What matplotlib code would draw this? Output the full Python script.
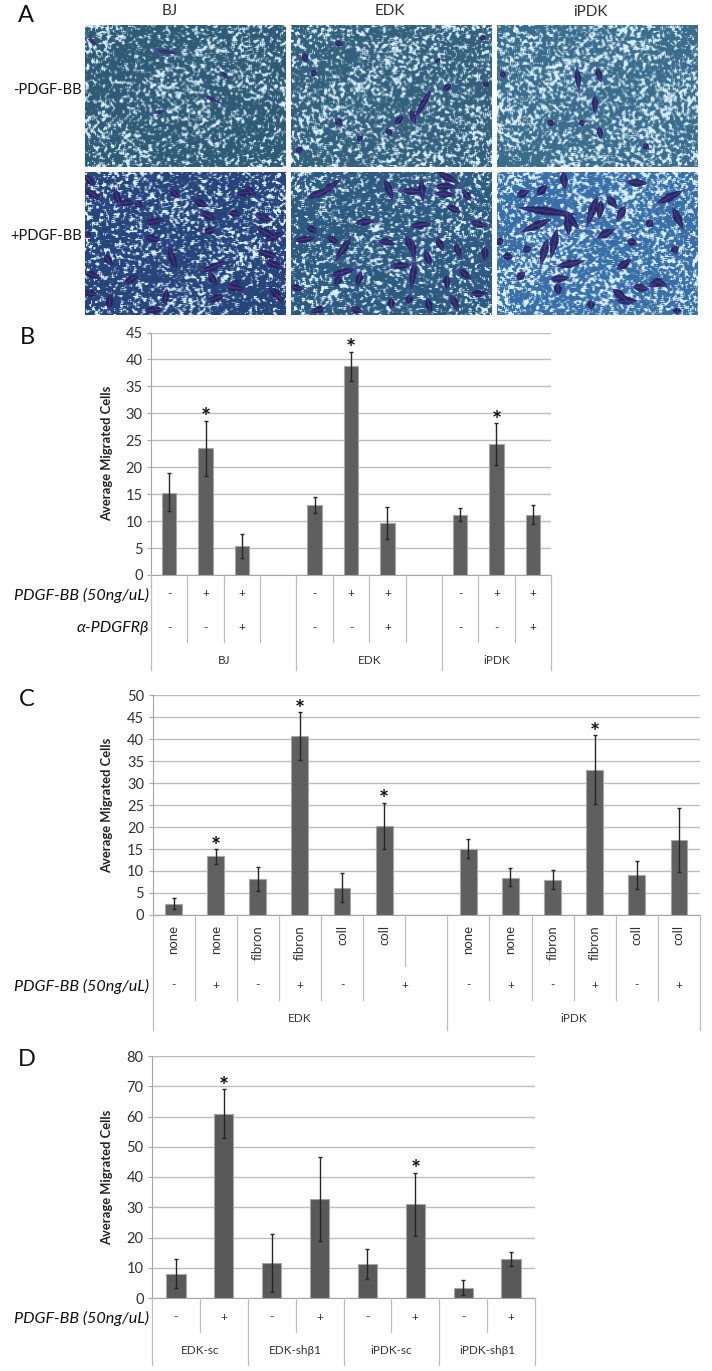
import matplotlib
matplotlib.use("Agg")
import matplotlib.pyplot as plt
import numpy as np

plt.rcParams['font.family'] = ['Lato', 'DejaVu Sans']

W, H = 712, 1371

# panel B
b_vals = [15.3, 23.5, 5.3, 0, 12.9, 38.7, 9.6, 0, 11.2, 24.3, 11.2]
b_low = [11.8, 18.3, 3.1, 0, 11.5, 36.0, 6.7, 0, 10.0, 20.4, 9.5]
b_high = [19.0, 28.6, 7.7, 0, 14.4, 41.4, 12.6, 0, 12.4, 28.2, 13.0]
b_stars = [1, 5, 9]
b_pdgf = ['-', '+', '+', '', '-', '+', '+', '', '-', '+', '+']
b_anti = ['-', '-', '+', '', '-', '-', '+', '', '-', '-', '+']
b_groups = ['BJ', 'EDK', 'iPDK']

# panel C
c_vals = [2.5, 13.3, 8.1, 40.7, 6.1, 20.2, 0, 14.9, 8.5, 8.0, 33.0, 9.1, 17.0]
c_low = [1.3, 11.6, 5.4, 35.3, 2.9, 14.9, 0, 12.9, 6.5, 5.8, 25.2, 6.0, 9.8]
c_high = [3.8, 15.0, 11.0, 46.1, 9.5, 25.5, 0, 17.2, 10.6, 10.2, 40.8, 12.3, 24.3]
c_stars = [1, 3, 5, 10]
c_names = ['none', 'none', 'fibron', 'fibron', 'coll', 'coll', '', 'none', 'none', 'fibron', 'fibron', 'coll', 'coll']
c_pdgf = ['-', '+', '-', '+', '-', '', '', '-', '+', '-', '+', '-', '+']
c_groups = ['EDK', 'iPDK']

# panel D
d_vals = [8.0, 60.8, 11.5, 32.7, 11.3, 31.0, 3.4, 12.8]
d_low = [3.3, 53.0, 2.0, 19.0, 6.3, 20.6, 1.0, 10.6]
d_high = [13.0, 69.0, 21.0, 46.7, 16.3, 41.4, 5.9, 15.1]
d_stars = [1, 5]
d_pdgf = ['-', '+', '-', '+', '-', '+', '-', '+']
d_groups = ['EDK-sc', 'EDK-shβ1', 'iPDK-sc', 'iPDK-shβ1']

# stained cells in panel A, as x0, y0, x1, y1 in fractions of each photo
cells_bj_minus = [(.36, .18, .46, .2), (.6, .5, .68, .55), (.35, .62, .4, .6), (.02, .1, .06, .14), (.68, .33, .72, .38)]
cells_edk_minus = [(.22, .12, .26, .14), (.1, .33, .13, .35), (.06, .2, .08, .26), (.7, .46, .62, .65), (.6, .6, .62, .7),
                   (.22, .66, .26, .71), (.8, .42, .76, .46), (.48, .73, .5, .78), (.34, .78, .35, .82), (.73, .24, .74, .26),
                   (.95, .08, .97, .1), (.03, .86, .05, .9), (.52, .7, .56, .64), (.97, .4, .98, .44)]
cells_ipdk_minus = [(.4, .3, .41, .46), (.49, .5, .49, .62), (.51, .72, .52, .8), (.73, .84, .76, .87), (.25, .68, .29, .7),
                    (.41, .7, .44, .68), (.02, .33, .04, .37), (.5, .3, .52, .4)]
cells_bj_plus = [(.0, .12, .09, .2), (.0, .02, .05, .1), (.15, .12, .18, .24), (.17, .22, .25, .21), (.25, .2, .29, .25),
                 (.43, .12, .47, .18), (.54, .2, .62, .24), (.76, .15, .84, .14), (.8, .1, .86, .18), (.72, .28, .78, .3),
                 (.85, .3, .94, .34), (.85, .38, .97, .48), (.9, .48, 1.0, .42), (.58, .28, .66, .34), (.3, .36, .4, .33),
                 (.0, .42, .03, .46), (.3, .45, .38, .48), (.6, .42, .65, .4), (.86, .55, .97, .6), (.1, .58, .14, .66),
                 (.42, .52, .46, .7), (.9, .62, 1.0, .68), (.58, .7, .72, .62), (.62, .7, .66, .8), (.0, .7, .08, .74),
                 (.2, .78, .27, .72), (.7, .8, .8, .82), (.13, .85, .12, .97), (.41, .82, .4, .93), (.72, .8, .78, .76),
                 (.3, .97, .4, .96), (.62, .9, .7, .86), (.0, .84, .06, .86), (.92, .8, 1.0, .92)]
cells_edk_plus = [(.08, .18, .2, .12), (.14, .16, .25, .05), (.47, .05, .51, .2), (.55, .13, .66, .14), (.65, .05, .66, .2),
                  (.73, .0, .84, .08), (.72, .1, .83, .1), (.72, .15, .82, .16), (.86, .13, .9, .2), (.78, .24, .85, .28),
                  (.32, .36, .42, .34), (.6, .38, .7, .36), (.9, .35, .98, .38), (.08, .38, .13, .42), (.18, .45, .24, .5),
                  (.3, .46, .22, .62), (.58, .45, .6, .55), (.73, .46, .76, .55), (.02, .48, .12, .46), (.44, .48, .52, .5),
                  (.6, .46, .62, .62), (.67, .55, .7, .66), (.82, .5, .85, .6), (.97, .52, .97, .62), (.35, .7, .33, .8),
                  (.2, .72, .32, .68), (.5, .66, .6, .65), (.62, .62, .6, .82), (.78, .72, .78, .82), (.84, .68, .9, .75),
                  (.6, .86, .58, .92), (.0, .8, .06, .82), (.17, .95, .1, .98), (.3, .95, .36, .98), (.68, .88, .7, .98),
                  (.8, .86, .84, .98), (.9, .85, .98, .85), (.5, .88, .5, .96), (.25, .72, .22, .8)]
cells_ipdk_plus = [(.11, .25, .4, .3), (.33, .27, .41, .4), (.27, .33, .12, .42), (.25, .47, .22, .65), (.3, .4, .27, .6),
                   (.35, .3, .36, .44), (.5, .17, .45, .38), (.52, .2, .51, .33), (.55, .17, .6, .25), (.64, .24, .6, .34),
                   (.8, .22, .93, .13), (.88, .25, .93, .4), (.5, .46, .59, .4), (.3, .66, .44, .62), (.6, .68, .67, .61),
                   (.3, .78, .31, .86), (.47, .9, .47, .96), (.58, .82, .65, .9), (.68, .8, .76, .82), (.82, .76, .76, .8),
                   (.03, .59, .08, .59), (.13, .55, .17, .53), (.33, .0, .34, .12), (.2, .16, .25, .09), (.65, .07, .75, .08),
                   (.88, .52, .9, .57), (.1, .17, .16, .13), (.65, .48, .7, .5), (.78, .75, .85, .8), (.9, .95, .9, .99),
                   (.0, .47, .03, .5), (.6, .9, .7, .9), (.1, .75, .14, .7), (.75, .38, .78, .34), (.27, .75, .36, .74)]


def px_axes(left, top, right, bottom):
    return fig.add_axes([left / W, 1 - bottom / H, (right - left) / W, (bottom - top) / H])


def blur(a):
    out = a.copy()
    for dx, dy in [(1, 0), (-1, 0), (0, 1), (0, -1), (1, 1), (-1, -1), (1, -1), (-1, 1)]:
        out = out + np.roll(a, (dy, dx), axis=(0, 1))
    return out / 9


def make_photo(seed, base, cover, ny=143, nx=200):
    # fixed speckle pattern for the micrograph background
    yy, xx = np.mgrid[0:ny, 0:nx]
    n1 = np.sin(xx * 12.9898 + yy * 78.233) * 43758.5453
    n1 = n1 - np.floor(n1)
    n2 = np.sin(n1 * 91.17 + xx * 0.37 + yy * 0.11 + seed) * 24634.6345
    n2 = n2 - np.floor(n2)
    smooth = blur(n2)
    smooth = (smooth - smooth.mean()) / smooth.std()
    patch = np.sin(xx / 19 + seed) * np.cos(yy / 14 - seed) + 0.7 * np.sin((xx + 1.4 * yy) / 31 + seed)
    field = smooth + 0.3 * patch
    limit = np.quantile(field, 1 - cover)
    speck = np.clip((field - limit) / 1.3, 0, 1)
    base = np.array(matplotlib.colors.to_rgb(base))
    light = np.array([0.84, 0.94, 1.0])
    return base + (light - base) * speck[..., None]


def draw_photo(left, top, right, bottom, cells, seed, base, cover, cell_w):
    ax = px_axes(left, top, right, bottom)
    ax.imshow(make_photo(seed, base, cover), extent=(0, 200, 143, 0), aspect='auto', interpolation='bilinear')
    for x0, y0, x1, y1 in cells:
        a = np.array([x0 * 200, y0 * 143])
        b = np.array([x1 * 200, y1 * 143])
        d = b - a
        n = np.array([-d[1], d[0]]) / (np.hypot(*d) + 1e-6)
        # faint tails, then the dark spindle body
        ax.plot([a[0] - d[0] * 0.2, b[0] + d[0] * 0.2], [a[1] - d[1] * 0.2, b[1] + d[1] * 0.2], color='#5a4aa8', lw=0.8, alpha=0.6)
        upper = [a + d * t + n * cell_w * s / 2 for t, s in [(0.2, 0.6), (0.45, 1), (0.75, 0.55)]]
        lower = [a + d * t - n * cell_w * s / 2 for t, s in [(0.75, 0.55), (0.45, 1), (0.2, 0.6)]]
        body = np.array([a] + upper + [b] + lower)
        ax.fill(body[:, 0], body[:, 1], color='#27215e', alpha=0.92, lw=0.5)
    ax.set_xlim(0, 200)
    ax.set_ylim(143, 0)
    ax.axis('off')


def draw_bars(left, top, right, bottom, vals, low, high, stars, ymax, step, n, width, color):
    ax = px_axes(left, top, right, bottom)
    x = np.arange(len(vals)) + 0.5
    v = np.array(vals)
    err = np.array([v - np.array(low), np.array(high) - v])
    keep = v > 0
    ax.bar(x[keep], v[keep], width=width, color=color, edgecolor='#a6a6a6', linewidth=0.8, zorder=3)
    ax.errorbar(x[keep], v[keep], yerr=err[:, keep], fmt='none', ecolor='#262626', elinewidth=1, capsize=1.6, capthick=1, zorder=4)
    for i in stars:
        ax.annotate('*', (x[i], high[i]), xytext=(0, -4), textcoords='offset points', ha='center', va='baseline',
                    fontsize=17, fontweight='bold', color='#111111', zorder=5, annotation_clip=False)
    ax.set_xlim(0, n)
    ax.set_ylim(0, ymax)
    ax.set_yticks(np.arange(0, ymax + 1, step))
    ax.set_xticks([])
    ax.yaxis.grid(True, color='#bdbdbd', lw=1)
    ax.set_axisbelow(True)
    for s in ['top', 'right']:
        ax.spines[s].set_visible(False)
    ax.spines['left'].set_color('#a6a6a6')
    ax.spines['bottom'].set_color('#a6a6a6')
    ax.tick_params(axis='y', length=3, color='#a6a6a6', labelsize=10.5, labelcolor='#333333', pad=3)
    ax.patch.set_alpha(0)
    return ax


fig = plt.figure(figsize=(W / 100, H / 100), dpi=100, facecolor='white')

# overlay in image pixels for the table under each chart and the panel letters
pix = fig.add_axes([0, 0, 1, 1], zorder=10)
pix.set_xlim(0, W)
pix.set_ylim(H, 0)
pix.axis('off')
pix.patch.set_alpha(0)


def sep(x, y0, y1):
    pix.plot([x, x], [y0, y1], color='#bdbdbd', lw=0.9)


def label(x, y, s, size=8.5, **kw):
    kw.setdefault('ha', 'center')
    kw.setdefault('va', 'center')
    kw.setdefault('color', '#333333')
    pix.text(x, y, s, fontsize=size, **kw)


def row_title(y, s):
    label(149, y, s, size=11.6, ha='right', style='italic', color='#111111')


# panel A
draw_photo(84.5, 25, 285, 167, cells_bj_minus, 1.3, '#2f5a75', 0.42, 3)
draw_photo(291, 25, 491, 167, cells_edk_minus, 2.7, '#34607c', 0.46, 6)
draw_photo(497, 25, 697, 167, cells_ipdk_minus, 4.1, '#3c6c8c', 0.52, 6)
draw_photo(84.5, 172, 285, 315, cells_bj_plus, 5.9, '#27457a', 0.40, 7)
draw_photo(291, 172, 491, 315, cells_edk_plus, 7.2, '#2f5a80', 0.40, 7)
draw_photo(497, 172, 697, 315, cells_ipdk_plus, 8.6, '#3a6fa6', 0.52, 8)
label(170, 11, 'BJ', size=11)
label(390, 11, 'EDK', size=11)
label(590, 12, 'iPDK', size=11)
label(82, 90, '-PDGF-BB', size=10.5, ha='right', color='#111111')
label(82, 236, '+PDGF-BB', size=10.5, ha='right', color='#111111')
for letter, lx, ly in [('A', 26, 15), ('B', 27, 337), ('C', 27, 699), ('D', 27, 1059)]:
    label(lx, ly, letter, size=17, color='#111111')

# panel B
bl, br, bb = 151, 551, 575
bw = (br - bl) / 11
draw_bars(bl, 332.5, br, bb, b_vals, b_low, b_high, b_stars, 45, 5, 11, 0.4, '#5f5f5f')
for i in range(12):
    sep(bl + i * bw, bb, 670 if i in (0, 4, 8, 11) else 641.5)
for i, (p, a) in enumerate(zip(b_pdgf, b_anti)):
    label(bl + (i + 0.5) * bw, 594, p)
    label(bl + (i + 0.5) * bw, 628, a)
for g, mid in zip(b_groups, (2, 6, 9.5)):
    label(bl + mid * bw, 661, g)
row_title(595, 'PDGF-BB (50ng/uL)')
row_title(628, 'α-PDGFRβ')
label(107, 453, 'Average Migrated Cells', size=9.4, rotation=90, fontweight='bold', color='#222222')

# panel C
cl, cr, cb = 152.5, 700, 915
cw = (cr - cl) / 13
draw_bars(cl, 695, cr, cb, c_vals, c_low, c_high, c_stars, 50, 5, 13, 0.4, '#5f5f5f')
for i in range(14):
    if i in (0, 7, 13):
        sep(cl + i * cw, cb, 1030)
    elif i == 6:
        sep(cl + i * cw, cb, 966)
    else:
        sep(cl + i * cw, cb, 1000)
for i, (nm, p) in enumerate(zip(c_names, c_pdgf)):
    label(cl + (i + 0.5) * cw, 925, nm, size=9.5, rotation=90, va='top')
    label(cl + (i + 0.5) * cw, 985, p)
label(cl + 6 * cw, 985, '+')
for g, mid in zip(c_groups, (3.5, 10)):
    label(cl + mid * cw, 1018, g)
row_title(986, 'PDGF-BB (50ng/uL)')
label(107, 805, 'Average Migrated Cells', size=9.4, rotation=90, fontweight='bold', color='#222222')

# panel D
dl, dr, db = 152, 535, 1298
dw = (dr - dl) / 8
draw_bars(dl, 1056, dr, db, d_vals, d_low, d_high, d_stars, 80, 10, 8, 0.4, '#595959')
for i in range(9):
    sep(dl + i * dw, db, 1365 if i % 2 == 0 else 1332)
for i, p in enumerate(d_pdgf):
    label(dl + (i + 0.5) * dw, 1317, p)
for i, g in enumerate(d_groups):
    label(dl + (2 * i + 1) * dw, 1350, g)
row_title(1318, 'PDGF-BB (50ng/uL)')
label(107, 1177, 'Average Migrated Cells', size=9.4, rotation=90, fontweight='bold', color='#222222')

fig.savefig('out.png', dpi=100)
